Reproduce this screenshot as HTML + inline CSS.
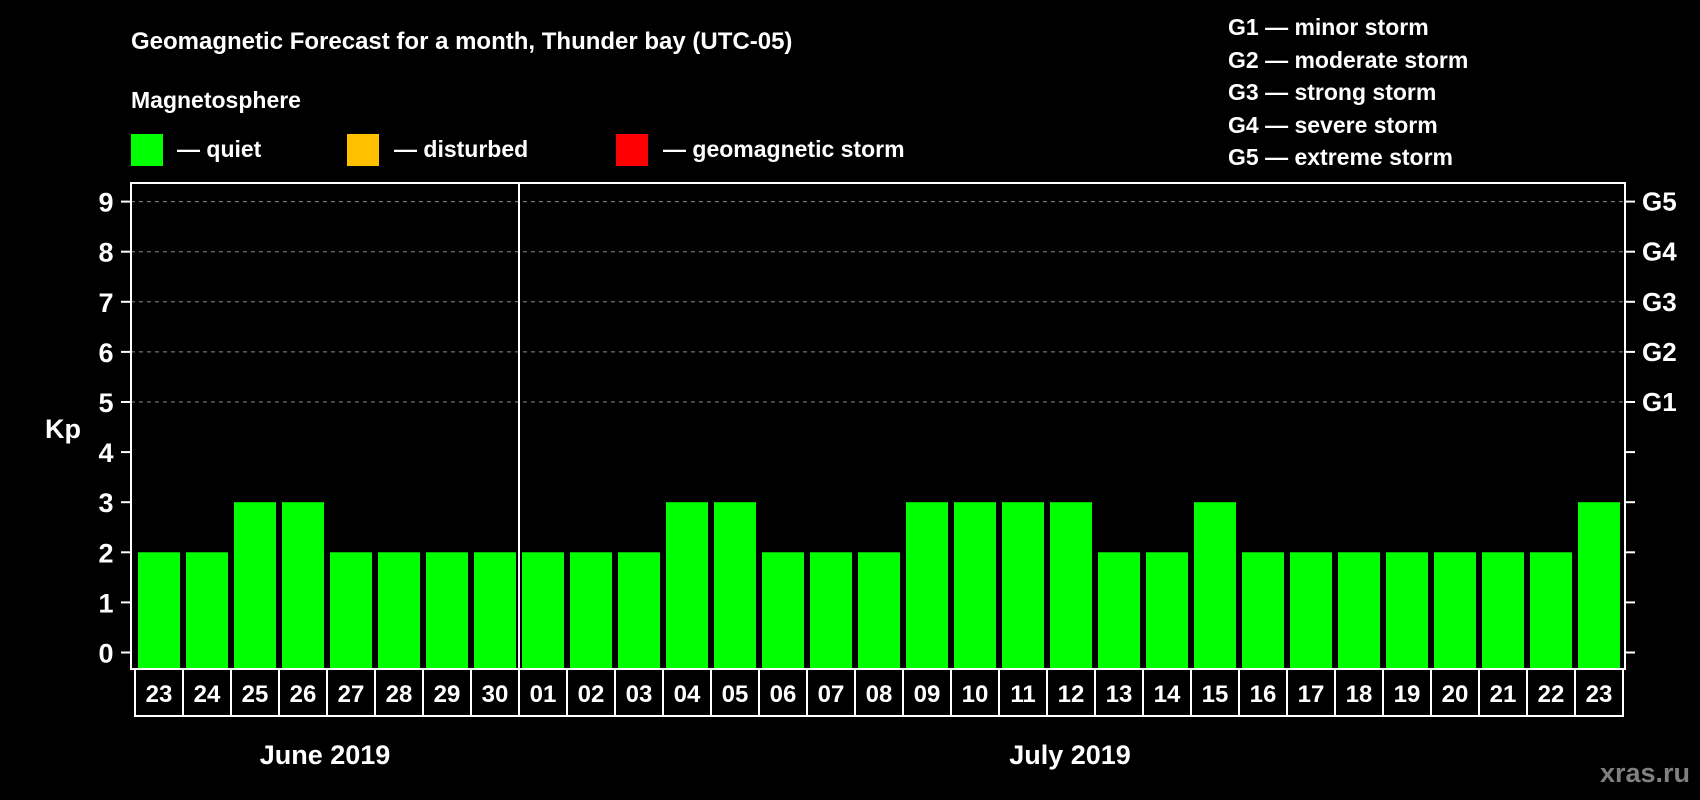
<!DOCTYPE html>
<html><head><meta charset="utf-8">
<style>
html,body{margin:0;padding:0;background:#000;}
svg{display:block;font-family:"Liberation Sans",Arial,sans-serif;font-weight:bold;}
</style></head>
<body>
<svg id="chart" width="1700" height="800" viewBox="0 0 1700 800">
<rect width="1700" height="800" fill="#000"/>
<text x="131" y="49" fill="#fff" font-size="24">Geomagnetic Forecast for a month, Thunder bay (UTC-05)</text>
<text x="131" y="108" fill="#fff" font-size="23">Magnetosphere</text>
<g>
<rect x="131" y="134" width="32" height="32" fill="#00ff00"/>
<text x="177" y="157" fill="#fff" font-size="23">— quiet</text></g>
<g>
<rect x="347" y="134" width="32" height="32" fill="#ffc000"/>
<text x="394" y="157" fill="#fff" font-size="23">— disturbed</text></g>
<g>
<rect x="616" y="134" width="32" height="32" fill="#ff0000"/>
<text x="663" y="157" fill="#fff" font-size="23">— geomagnetic storm</text></g>
<g fill="#fff" font-size="23">
<text x="1228" y="35">G1 — minor storm</text>
<text x="1228" y="68">G2 — moderate storm</text>
<text x="1228" y="100">G3 — strong storm</text>
<text x="1228" y="133">G4 — severe storm</text>
<text x="1228" y="165">G5 — extreme storm</text>
</g>
<text x="63" y="438" fill="#fff" font-size="27" text-anchor="middle">Kp</text>
<g id="plot"></g>
<text x="325" y="764" fill="#fff" font-size="27" text-anchor="middle">June 2019</text>
<text x="1070" y="764" fill="#fff" font-size="27" text-anchor="middle">July 2019</text>
<text x="1690" y="782" fill="#808080" font-size="27" text-anchor="end">xras.ru</text>
</svg>
<script>
const days = ["23","24","25","26","27","28","29","30","01","02","03","04","05","06","07","08","09","10","11","12","13","14","15","16","17","18","19","20","21","22","23"];
const kpValues = [2,2,3,3,2,2,2,2,2,2,2,3,3,2,2,2,3,3,3,3,2,2,3,2,2,2,2,2,2,2,3];
const yTicks = [0,1,2,3,4,5,6,7,8,9];
const gLabels = {5:"G1",6:"G2",7:"G3",8:"G4",9:"G5"};
const monthSplit = 8;

const NS="http://www.w3.org/2000/svg";
const plot=document.getElementById('plot');
const bandStart=135, band=48, y0=652.5, unit=50.1;
const plotL=131, plotR=1625, plotT=183, plotB=669;
const xBand=i=>bandStart+i*band;
const yScale=v=>y0-v*unit;
function mk(tag,attrs,parent){const e=document.createElementNS(NS,tag);for(const k in attrs)e.setAttribute(k,attrs[k]);(parent||plot).appendChild(e);return e;}

yTicks.forEach(v=>{
  const y=yScale(v);
  if(gLabels[v]){
    const g=mk('line',{x1:plotL,x2:plotR,y1:y,y2:y,stroke:'#888','stroke-width':1,'stroke-dasharray':'4,4'});
    
    
    const gl=mk('text',{x:1642,y:y+9,fill:'#fff','font-size':26});
    gl.textContent=gLabels[v];
    
    
  }
  const t1=mk('line',{x1:121,x2:plotL,y1:y,y2:y,stroke:'#fff','stroke-width':2});
  
  
  const t2=mk('line',{x1:plotR,x2:1635,y1:y,y2:y,stroke:'#fff','stroke-width':2});
  
  
  const tl=mk('text',{x:106,y:y+10,fill:'#fff','font-size':27,'text-anchor':'middle'});
  tl.textContent=v;
  
  
});

kpValues.forEach((v,i)=>{
  const b=mk('rect',{x:xBand(i)+3,y:yScale(v),width:42,height:plotB-yScale(v),fill:'#00ff00'});
  
  
  const c=mk('rect',{x:xBand(i),y:plotB,width:band,height:47,fill:'none',stroke:'#fff','stroke-width':2});
  
  
  const t=mk('text',{x:xBand(i)+band/2,y:plotB+33,fill:'#fff','font-size':24,'text-anchor':'middle'});
  t.textContent=days[i];
  
  
});

const frame=mk('rect',{x:plotL,y:plotT,width:plotR-plotL,height:plotB-plotT,fill:'none',stroke:'#fff','stroke-width':2});


const sep=mk('line',{x1:xBand(monthSplit),x2:xBand(monthSplit),y1:plotT,y2:plotB+47,stroke:'#fff','stroke-width':2});


</script>
</body></html>
